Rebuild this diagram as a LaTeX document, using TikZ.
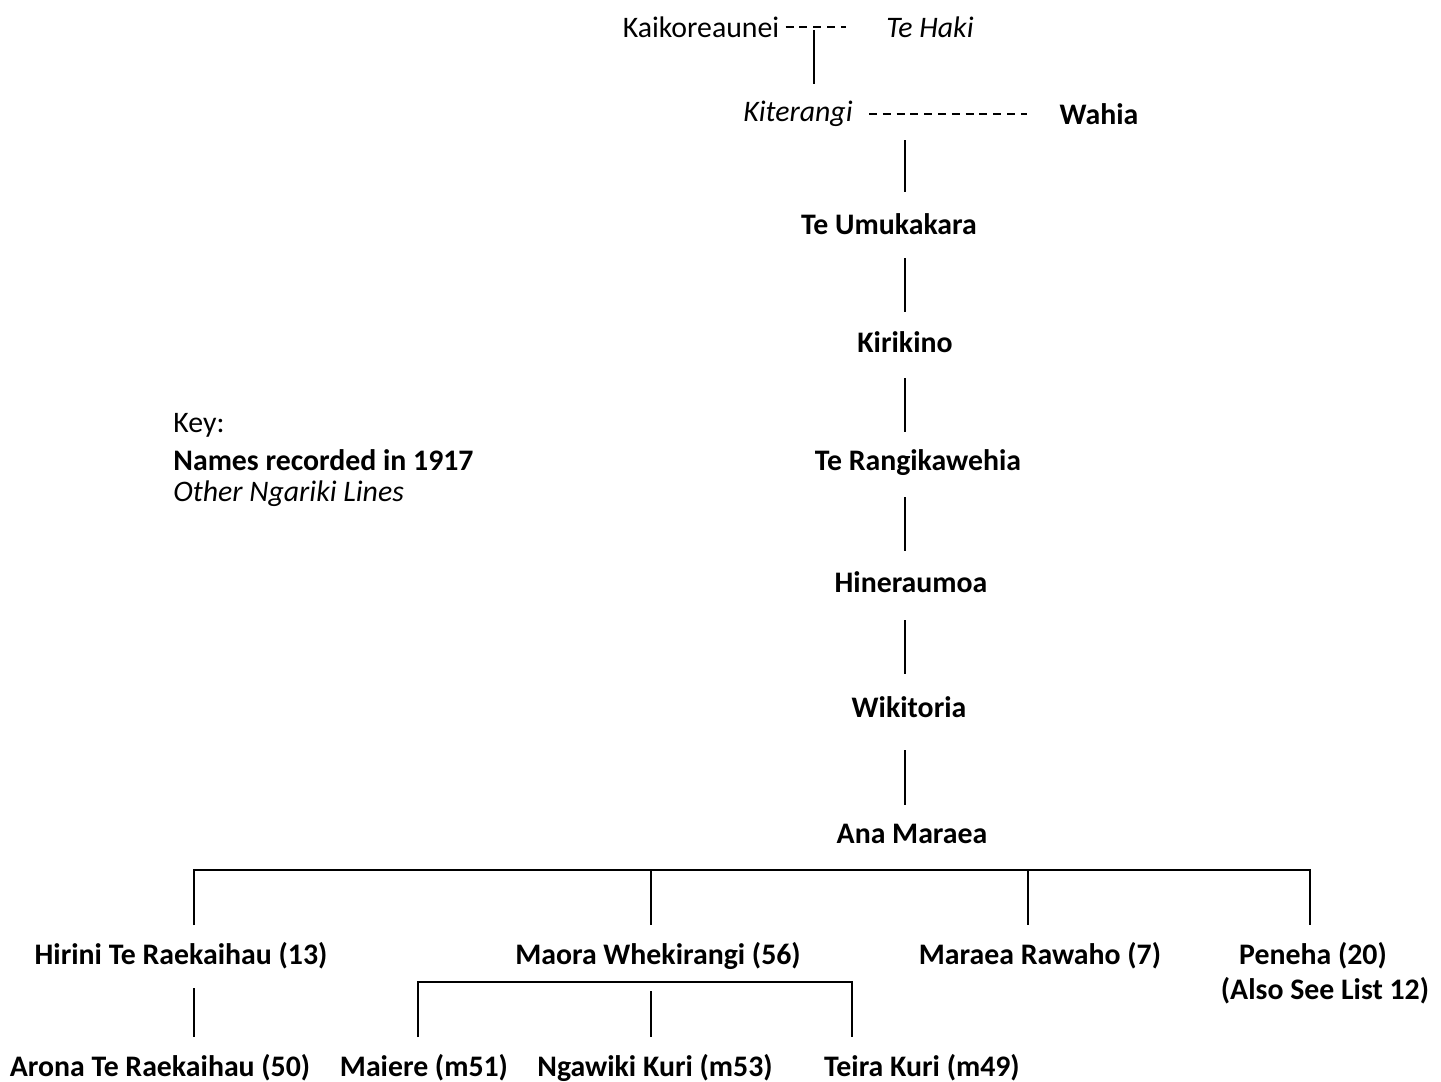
\documentclass[tikz,border=0pt]{standalone}
\usepackage{fontspec}
\setmainfont{Carlito}
\begin{document}
\begin{tikzpicture}[x=0.5pt,y=-0.5pt,
  every node/.style={inner sep=0pt,font=\fontsize{14.9}{17.5}\selectfont},
  person/.style={font=\fontsize{14.9}{17.5}\selectfont\bfseries},
  other/.style={font=\fontsize{14.9}{17.5}\selectfont\itshape},
  link/.style={line width=1pt},
  marriage/.style={line width=0.8pt,dash pattern=on 4pt off 2.9pt}]
\useasboundingbox (0,0) rectangle (1441,1082);

% top generations
\node (kai) at (701,27) {Kaikoreaunei};
\node[other] (haki) at (930,27) {Te Haki};
\node[other] (kit) at (798,114) {Kiterangi};
\node[person] (wahia) at (1099,114) {Wahia};
\node[person] (umu) at (889,224) {Te Umukakara};
\node[person] (kiri) at (905,342) {Kirikino};
\node[person] (rangi) at (918,463) {Te Rangikawehia};
\node[person] (hine) at (911,582) {Hineraumoa};
\node[person] (wiki) at (909,707) {Wikitoria};
\node[person] (ana) at (912,834) {Ana Maraea};

% children of Ana Maraea
\node[person] (hirini) at (181,956) {Hirini Te Raekaihau (13)};
\node[person] (maora) at (658,956) {Maora Whekirangi (56)};
\node[person] (maraea) at (1040,956) {Maraea Rawaho (7)};
\node[person] (peneha) at (1313,956) {Peneha (20)};
\node[person] (also) at (1325,991) {(Also See List 12)};

% grandchildren
\node[person] (arona) at (160,1068) {Arona Te Raekaihau (50)};
\node[person] (maiere) at (424,1068) {Maiere (m51)};
\node[person] (ngawiki) at (655,1068) {Ngawiki Kuri (m53)};
\node[person] (teira) at (922,1068) {Teira Kuri (m49)};

% key
\node[anchor=west] (key) at (173,425) {Key:};
\node[person,anchor=west] (keyrec) at (173,460) {Names recorded in 1917};
\node[other,anchor=west] (keyoth) at (173,494) {Other Ngariki Lines};

% marriages
\draw[marriage] ([xshift=3pt]kai.east) -- ([xshift=-20pt]haki.west);
\draw[marriage] ([xshift=8pt]kit.east) -- ([xshift=-16pt]wahia.west);

% line of descent
\coordinate (d1a) at (814,30);  \coordinate (d1b) at (814,84);
\coordinate (d2a) at (905,140); \coordinate (d2b) at (905,192);
\coordinate (d3a) at (905,258); \coordinate (d3b) at (905,312);
\coordinate (d4a) at (905,378); \coordinate (d4b) at (905,432);
\coordinate (d5a) at (905,497); \coordinate (d5b) at (905,551);
\coordinate (d6a) at (905,620); \coordinate (d6b) at (905,674);
\coordinate (d7a) at (905,750); \coordinate (d7b) at (905,805);
\foreach \i in {1,...,7} \draw[link] (d\i a) -- (d\i b);

% family of Ana Maraea
\coordinate (barL) at (194,870);
\coordinate (barR) at (1310,870);
\draw[link] (194,925) -- (barL) -- (barR) -- (1310,925);
\draw[link] (651,870) -- (651,925);
\draw[link] (1028,870) -- (1028,925);

% Hirini's line
\draw[link] (194,988) -- (194,1037);

% family of Maora Whekirangi
\coordinate (mbarL) at (418,982);
\coordinate (mbarR) at (852,982);
\draw[link] (418,1037) -- (mbarL) -- (mbarR) -- (852,1037);
\draw[link] (651,991) -- (651,1037);
\end{tikzpicture}
\end{document}
